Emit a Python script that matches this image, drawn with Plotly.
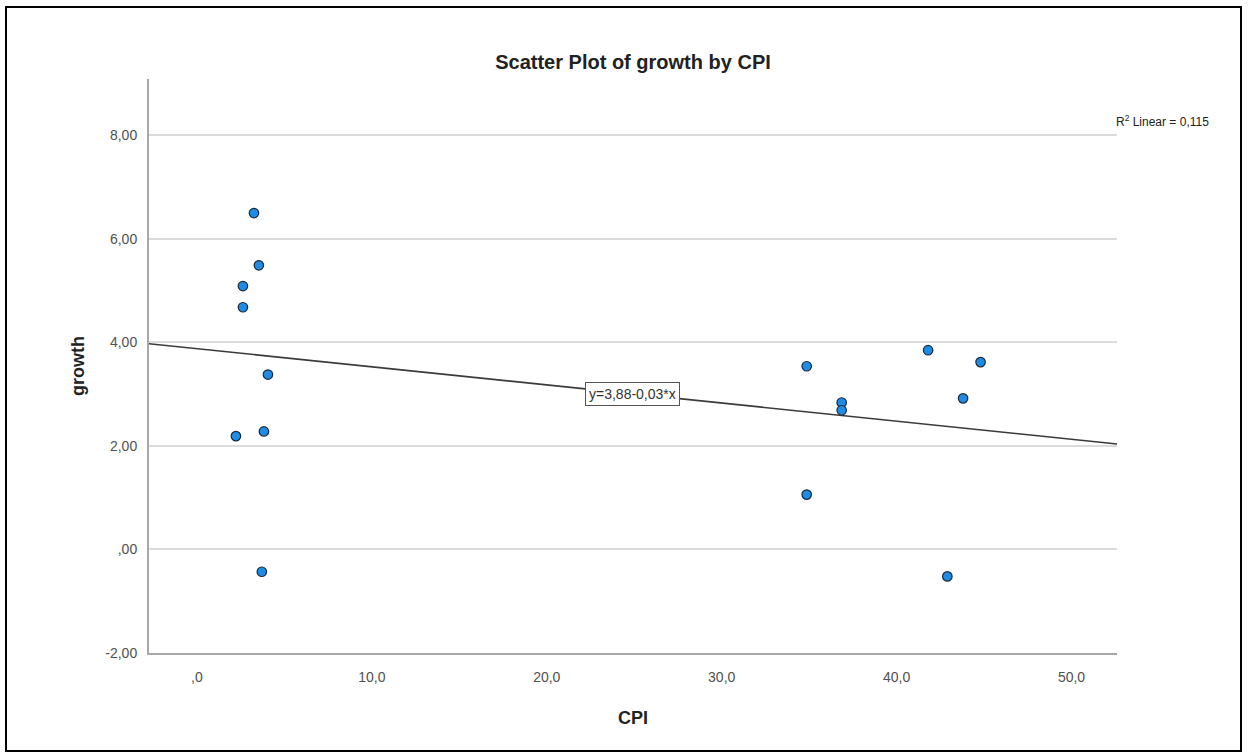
import numpy as np
import plotly.graph_objects as go

# CPI vs growth
cpi = [3.26, 3.54, 2.63, 2.63, 4.06, 3.83, 2.23, 3.71,
       34.86, 34.86, 36.86, 36.86, 41.8, 44.8, 43.8, 42.9]
growth = [6.50, 5.49, 5.09, 4.68, 3.38, 2.28, 2.19, -0.43,
          3.54, 1.06, 2.84, 2.69, 3.85, 3.62, 2.92, -0.52]

# fit line as printed on the chart (slope shown rounded to -0,03)
fit_intercept = 3.88
fit_slope = -0.035
fit_label = "y=3,88-0,03*x"
r2_label = "R<sup>2</sup> Linear = 0,115"

x_range = [-2.74, 52.6]
y_range = [-2.0, 9.09]
x_ticks = [0, 10, 20, 30, 40, 50]
x_ticktext = [",0", "10,0", "20,0", "30,0", "40,0", "50,0"]
y_ticks = [-2, 0, 2, 4, 6, 8]
y_ticktext = ["-2,00", ",00", "2,00", "4,00", "6,00", "8,00"]

W, H = 1249, 756
L, R, T, B = 149, 132, 79, 103
FONT = "Liberation Sans, Arial, sans-serif"


def px_x(px):
    return (px - L) / (W - L - R)


def px_y(py):
    return (H - B - py) / (H - T - B)


fit_x = np.array(x_range)
fit_y = fit_intercept + fit_slope * fit_x

fig = go.Figure()
fig.add_trace(
    go.Scatter(
        x=fit_x,
        y=fit_y,
        mode="lines",
        line={"color": "#3a3a3a", "width": 1.6},
        hoverinfo="skip",
        showlegend=False,
    )
)
fig.add_trace(
    go.Scatter(
        x=cpi,
        y=growth,
        mode="markers",
        marker={
            "size": 9.5,
            "color": "#1d8ce6",
            "line": {"color": "#1a2a3a", "width": 1.2},
        },
        showlegend=False,
    )
)

label_x = 24.9
fig.add_annotation(
    x=label_x,
    y=fit_intercept + fit_slope * label_x,
    text=fit_label,
    showarrow=False,
    font={"family": FONT, "size": 14, "color": "#333"},
    bgcolor="white",
    bordercolor="#555",
    borderwidth=1,
    borderpad=3,
)
fig.add_annotation(
    x=px_x(1114),
    y=px_y(121),
    xref="paper",
    yref="paper",
    xanchor="left",
    yanchor="middle",
    text=r2_label,
    showarrow=False,
    font={"family": FONT, "size": 12, "color": "#222"},
)

# outer frame
fig.add_shape(
    type="rect",
    xref="paper",
    yref="paper",
    x0=px_x(6),
    x1=px_x(1241),
    y0=px_y(751),
    y1=px_y(7),
    line={"color": "black", "width": 2},
)

fig.update_layout(
    width=W,
    height=H,
    paper_bgcolor="white",
    plot_bgcolor="white",
    margin={"l": L, "r": R, "t": T, "b": B},
    title={
        "text": "<b>Scatter Plot of growth by CPI</b>",
        "x": 0.5,
        "xref": "paper",
        "y": 1 - 62 / H,
        "yanchor": "middle",
        "font": {"family": FONT, "size": 20, "color": "#222"},
    },
    xaxis={
        "range": x_range,
        "tickvals": x_ticks,
        "ticktext": x_ticktext,
        "showgrid": False,
        "zeroline": False,
        "showline": True,
        "linecolor": "#a8a8a8",
        "linewidth": 2,
        "ticklabelstandoff": 10,
        "tickfont": {"family": FONT, "size": 14, "color": "#505050"},
        "title": {
            "text": "<b>CPI</b>",
            "font": {"family": FONT, "size": 18, "color": "#222"},
            "standoff": 28,
        },
    },
    yaxis={
        "range": y_range,
        "tickvals": y_ticks,
        "ticktext": y_ticktext,
        "showgrid": True,
        "gridcolor": "#dcdcdc",
        "gridwidth": 2,
        "zeroline": False,
        "showline": True,
        "linecolor": "#a8a8a8",
        "linewidth": 2,
        "ticklabelstandoff": 7,
        "tickfont": {"family": FONT, "size": 14, "color": "#505050"},
        "title": {
            "text": "<b>growth</b>",
            "font": {"family": FONT, "size": 18, "color": "#222"},
            "standoff": 16,
        },
    },
)

# drop the page's default 8px body margin so the figure sits at (0, 0)
fig.write_html(
    "out.html",
    config={"displayModeBar": False},
    post_script="document.body.style.margin = '0';",
)
